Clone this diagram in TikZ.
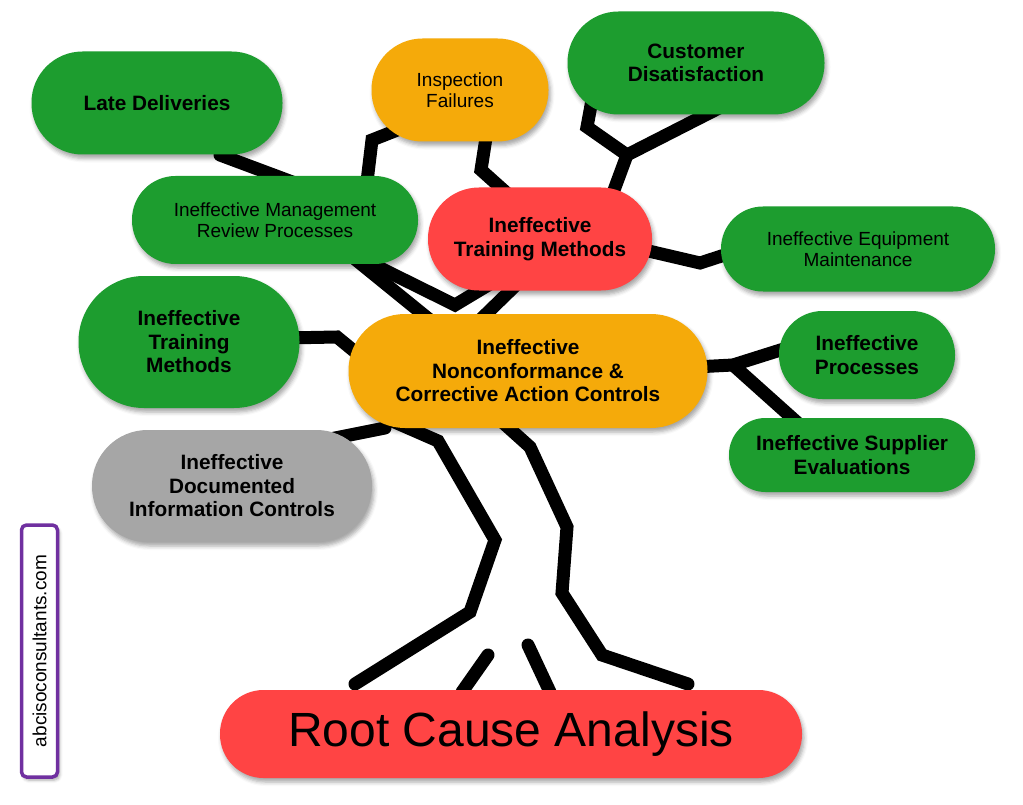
\documentclass[tikz,border=0pt]{standalone}
\usepackage{fontspec}
\setmainfont{Liberation Sans}
\usetikzlibrary{shadows.blur,backgrounds}
\definecolor{cgreen}{RGB}{29,157,47}
\definecolor{corange}{RGB}{245,170,10}
\definecolor{cred}{RGB}{255,68,68}
\definecolor{cgray}{RGB}{166,166,166}
\definecolor{cpurple}{RGB}{112,48,160}
\tikzset{
  pill/.style n args={2}{shape=rectangle, minimum width=#1, minimum height=#2, rounded corners=#2/2-0.5pt,
    inner sep=0pt, align=center, text=black,
    blur shadow={shadow xshift=2pt, shadow yshift=-4pt, shadow blur radius=4pt, shadow opacity=35}},
  regtxt/.style={font=\fontsize{19}{21}\selectfont},
  boldtxt/.style={font=\fontsize{20.8}{23.5}\selectfont\bfseries},
  branch/.style={line width=13pt, black, line cap=round, line join=miter},
}
\begin{document}
\begin{tikzpicture}[x=1pt,y=-1pt]
\useasboundingbox (0,0) rectangle (1023,805);

% nodes
\node[pill={251pt}{103pt}, fill=cgreen, boldtxt] (late) at (157,103) {Late Deliveries};
\node[pill={177pt}{103pt}, fill=corange, regtxt] (insp) at (460,90) {Inspection\\Failures};
\node[pill={257pt}{103pt}, fill=cgreen, boldtxt] (cust) at (696,63) {Customer\\Disatisfaction};
\node[pill={286pt}{88pt}, fill=cgreen, regtxt] (mgmt) at (275,220) {Ineffective Management\\Review Processes};
\node[pill={224pt}{103pt}, fill=cred, boldtxt] (rtrain) at (540,239) {Ineffective\\Training Methods};
\node[pill={274pt}{85pt}, fill=cgreen, regtxt] (equip) at (858,249) {Ineffective Equipment\\Maintenance};
\node[pill={221pt}{132pt}, fill=cgreen, boldtxt] (ltrain) at (189,342) {Ineffective\\Training\\Methods};
\node[pill={359pt}{114pt}, fill=corange, boldtxt] (ncr) at (528,371) {Ineffective\\Nonconformance \&\\Corrective Action Controls};
\node[pill={176pt}{88pt}, fill=cgreen, boldtxt] (proc) at (867,355) {Ineffective\\Processes};
\node[pill={246pt}{74pt}, fill=cgreen, boldtxt] (supp) at (852,455) {Ineffective Supplier\\Evaluations};
\node[pill={280pt}{112pt}, fill=cgray, boldtxt] (doc) at (232,486) {Ineffective\\Documented\\Information Controls};
\node[pill={582pt}{88pt}, fill=cred, font=\fontsize{48}{50}\selectfont] (rca) at (511,734) {Root Cause Analysis};
\node[shape=rectangle, minimum width=252pt, minimum height=36pt, rounded corners=5pt, draw=cpurple, line width=3.5pt,
  fill=white, inner sep=0pt, rotate=90, font=\fontsize{19}{21}\selectfont,
  blur shadow={shadow xshift=2pt, shadow yshift=-3pt, shadow blur radius=3pt, shadow opacity=35}] (web) at (39.5,651) {abcisoconsultants.com};

% junction and end coordinates
\coordinate (jcust) at (627,155);
\coordinate (jright) at (733,365);
\coordinate (jmgmt) at (455,305);
\coordinate (ltop) at (438,441);
\coordinate (rtop) at (530,447);
\coordinate (lend) at (355,684);
\coordinate (rend) at (688,684);
\coordinate (root1) at (488,655);
\coordinate (root2) at (528,645);

\begin{scope}[on background layer]
% trunk
\draw[branch] ([shift={(-138,49)}]ncr.center) -- (ltop) -- (495,540) -- (470,612) -- (lend);
\draw[branch] ([shift={(-28,49)}]ncr.center) -- (rtop) -- (567,527) -- (562,593) -- (602,655) -- (rend);
\draw[branch] (root1) -- ([shift={(-49,-42)}]rca.center);
\draw[branch] (root2) -- ([shift={(39,-42)}]rca.center);
% documented information branch
\draw[branch] ([shift={(68,-41)}]doc.center) -- ([shift={(-143,57)}]ncr.center);
% left training branch
\draw[branch] ([shift={(96,-4)}]ltrain.center) -- (337,337) -- ([shift={(-163,-11)}]ncr.center);
% red training to ncr
\draw[branch] ([shift={(-25,47)}]rtrain.center) -- ([shift={(-48,-51)}]ncr.center);
% management fork
\draw[branch] ([shift={(75,35)}]mgmt.center) -- ([shift={(-98,-51)}]ncr.center);
\draw[branch] ([shift={(85,38)}]mgmt.center) -- (jmgmt) -- ([shift={(-50,45)}]rtrain.center);
% late deliveries
\draw[branch] ([shift={(63,52)}]late.center) -- ([shift={(20,-37)}]mgmt.center);
% inspection
\draw[branch] ([shift={(-50,35)}]insp.center) -- (372,140) -- ([shift={(91,-30)}]mgmt.center);
\draw[branch] ([shift={(28,35)}]insp.center) -- (481,170) -- ([shift={(-30,-43)}]rtrain.center);
% customer
\draw[branch] ([shift={(-104,37)}]cust.center) -- (587,127) -- (jcust);
\draw[branch] ([shift={(29,42)}]cust.center) -- (jcust);
\draw[branch] (jcust) -- ([shift={(70,-38)}]rtrain.center);
% equipment
\draw[branch] ([shift={(100,10)}]rtrain.center) -- (700,263) -- ([shift={(-118,1)}]equip.center);
% processes and supplier
\draw[branch] ([shift={(167,-4)}]ncr.center) -- (jright) -- ([shift={(-77,-8)}]proc.center);
\draw[branch] (jright) -- ([shift={(-52,-30)}]supp.center);
\end{scope}
\end{tikzpicture}
\end{document}
